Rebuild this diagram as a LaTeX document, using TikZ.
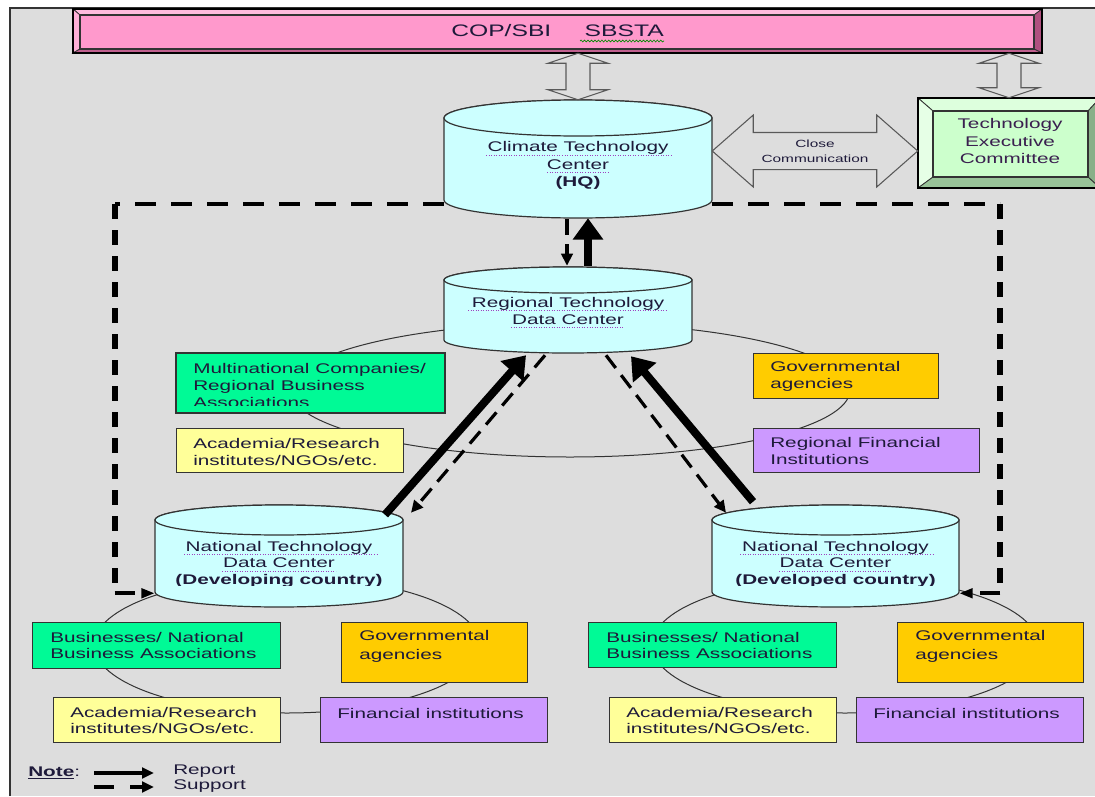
\documentclass[tikz,border=0pt]{standalone}
\usepackage{fontspec}
\setmainfont{Liberation Sans}[FakeStretch=1.48]
\usetikzlibrary{arrows.meta,calc,decorations.pathmorphing}
\definecolor{panel}{HTML}{DDDDDD}
\definecolor{pinkface}{HTML}{FF99CC}
\definecolor{pinktop}{HTML}{FFBBDD}
\definecolor{pinkleft}{HTML}{FFB0D8}
\definecolor{pinkright}{HTML}{B0507F}
\definecolor{pinkbot}{HTML}{C0608F}
\definecolor{cylfill}{HTML}{CCFFFF}
\definecolor{tecface}{HTML}{CCFFCC}
\definecolor{tectop}{HTML}{DDFFDD}
\definecolor{tecleft}{HTML}{E6FFE6}
\definecolor{tecright}{HTML}{88B088}
\definecolor{tecbot}{HTML}{99C499}
\definecolor{bgreen}{HTML}{00FA96}
\definecolor{borange}{HTML}{FFCC00}
\definecolor{byellow}{HTML}{FFFF99}
\definecolor{bpurple}{HTML}{CC99FF}
\definecolor{txtc}{HTML}{1E1A3A}
\definecolor{tectxt}{HTML}{3A1F4F}
\definecolor{linec}{HTML}{333333}
\definecolor{spellc}{HTML}{A040C0}
\pgfdeclarelayer{bg}
\pgfsetlayers{bg,main}
\tikzset{
  txt/.style={inner sep=0, text=txtc, font=\fontsize{10.5}{12.75}\selectfont},
  cyltxt/.style={txt, align=center, font=\fontsize{10.5}{13}\selectfont},
  boxtxt/.style={txt, align=left, anchor=west},
  box/.style={draw=linec, line width=0.9pt, inner sep=0, anchor=north west},
  cyl/.style={fill=cylfill, draw=linec, line width=0.9pt},
  ring/.style={draw=linec, line width=0.75pt},
  bevel/.style={draw=linec, line width=0.6pt},
  hollow/.style={fill=panel, draw=black!65, line width=0.8pt},
  spell/.style={draw=spellc, line width=0.6pt, dash pattern=on 0.6pt off 1.3pt},
  supportH/.style={line width=3.2pt, dash pattern=on 15.5pt off 11.5pt},
  supportV/.style={line width=4.6pt, dash pattern=on 10.9pt off 8.6pt},
  suptip/.style={-{Triangle[length=10pt,width=7pt]}},
  supthin/.style={line width=2.4pt, dash pattern=on 12pt off 6.75pt, -{Triangle[length=9pt,width=8.5pt]}},
  report/.style={line width=6pt, -{Triangle[length=16pt,width=22pt]}},
  legsolid/.style={line width=3pt, -{Triangle[length=9pt,width=8pt]}},
  legdash/.style={line width=3pt, dash pattern=on 15pt off 12pt, -{Triangle[length=9pt,width=8pt]}}
}
% cylinder: name, cx, cy, width, height, ry (px)
\newcommand\cylnode[6]{%
  \pgfmathsetmacro\cxl{#2-#4/2}\pgfmathsetmacro\cxr{#2+#4/2}%
  \pgfmathsetmacro\cyt{#3-#5/2+#6}\pgfmathsetmacro\cyb{#3+#5/2-#6}%
  \pgfmathsetmacro\crx{#4/2}%
  \filldraw[cyl] (\cxl,\cyt) -- (\cxl,\cyb) arc[start angle=180,end angle=0,x radius=\crx,y radius=#6] -- (\cxr,\cyt) arc[start angle=0,end angle=-180,x radius=\crx,y radius=#6] -- cycle;
  \draw[cyl] (#2,\cyt) ellipse [x radius=\crx, y radius=#6];
  \node[inner sep=0, minimum width=#4*0.75pt, minimum height=#5*0.75pt] (#1) at (#2,#3) {};
}
% box: name, x1, y1, x2, y2, fill
\newcommand\boxnode[6]{%
  \node[box, fill=#6, minimum width={(#4-#2)*0.75pt}, minimum height={(#5-#3)*0.75pt}] (#1) at (#2,#3) {};
}
% vertical hollow double arrow between two points
\newcommand\dblarrowV[2]{%
  \draw[hollow] let \p1=#1, \p2=#2 in
   (\x1,\y1) -- (\x1+22.5pt,\y1-7.5pt) -- (\x1+9pt,\y1-7.5pt) -- (\x1+9pt,\y2+7.5pt) -- (\x1+22.5pt,\y2+7.5pt) -- (\x1,\y2)
   -- (\x1-22.5pt,\y2+7.5pt) -- (\x1-9pt,\y2+7.5pt) -- (\x1-9pt,\y1-7.5pt) -- (\x1-22.5pt,\y1-7.5pt) -- cycle;
}
% horizontal hollow double arrow
\newcommand\dblarrowH[2]{%
  \draw[hollow] let \p1=#1, \p2=#2 in
   (\x1,\y1) -- (\x1+30.75pt,\y1+27pt) -- (\x1+30.75pt,\y1+13.9pt) -- (\x2-30.75pt,\y1+13.9pt) -- (\x2-30.75pt,\y1+27pt) -- (\x2,\y1)
   -- (\x2-30.75pt,\y1-27pt) -- (\x2-30.75pt,\y1-13.9pt) -- (\x1+30.75pt,\y1-13.9pt) -- (\x1+30.75pt,\y1-27pt) -- cycle;
}
\begin{document}
\begin{tikzpicture}[x=0.75pt,y=-0.75pt]
\useasboundingbox (0,0) rectangle (1095,796);
\begin{pgfonlayer}{bg}
  \fill[white] (0,0) rectangle (1095,796);
  \fill[panel] (10,8) rectangle (1095,796);
  \draw[linec, line width=0.9pt] (10,796) -- (10,8) -- (1095,8);
  % rings
  \draw[ring] (570,390) ellipse [x radius=280, y radius=67];
  \draw[ring] (287,645) ellipse [x radius=193, y radius=68];
  \draw[ring] (845,645) ellipse [x radius=193, y radius=68];
\end{pgfonlayer}

% ---- COP bar
\node[inner sep=0, minimum width=726.75pt, minimum height=33pt] (copbar) at (557.5,31) {};
\fill[pinkface] (80,15) rectangle (1034,49);
\filldraw[bevel, fill=pinktop] (73,9) -- (1042,9) -- (1034,15) -- (80,15) -- cycle;
\filldraw[bevel, fill=pinkleft] (73,9) -- (80,15) -- (80,49) -- (73,53) -- cycle;
\filldraw[bevel, fill=pinkright] (1042,9) -- (1042,53) -- (1034,49) -- (1034,15) -- cycle;
\filldraw[bevel, fill=pinkbot] (73,53) -- (1042,53) -- (1034,49) -- (80,49) -- cycle;
\draw[black, line width=1pt] (73,9) rectangle (1042,53);
\draw[linec, line width=0.9pt] (80,15) rectangle (1034,49);
\node[txt, font=\fontsize{12.5}{15}\selectfont] (cop) at (557.5,31) {COP/SBI\hspace{25pt}SBSTA};
\draw[green!55!black, line width=0.5pt, decorate, decoration={snake, amplitude=0.7pt, segment length=2.6pt}] (580,41) -- (664,41);

% ---- TEC box
\node[inner sep=0, minimum width=136.5pt, minimum height=67.5pt] (tec) at (1009,143) {};
\fill[tecface] (933,111) rectangle (1088,177);
\filldraw[bevel, fill=tectop] (918,98) -- (1100,98) -- (1088,111) -- (933,111) -- cycle;
\filldraw[bevel, fill=tecleft] (918,98) -- (933,111) -- (933,177) -- (918,188) -- cycle;
\filldraw[bevel, fill=tecright] (1100,98) -- (1100,188) -- (1088,177) -- (1088,111) -- cycle;
\filldraw[bevel, fill=tecbot] (918,188) -- (1100,188) -- (1088,177) -- (933,177) -- cycle;
\draw[black, line width=1pt] (918,98) rectangle (1100,188);
\draw[linec, line width=0.9pt] (933,111) rectangle (1088,177);
\node[cyltxt, text=tectxt] (tect) at (1010,141) {Technology\\Executive\\Committee};

% ---- cylinders
\cylnode{hq}{578}{159}{268}{118}{18}
\cylnode{rtdc}{568}{310}{248}{86}{13}
\cylnode{ntdcL}{279}{556}{248}{102}{15}
\cylnode{ntdcR}{835.5}{556}{247}{102}{15}
\node[cyltxt] (hqt) at (578,165.5) {Climate Technology\\Center\\\textbf{(HQ)}};
\node[cyltxt] (rtdct) at (568,311) {Regional Technology\\Data Center};
\begin{scope}
  \clip (150,500) rectangle (965,585);
  \node[cyltxt, font=\fontsize{10.5}{12.4}\selectfont] (ntdcLt) at (279,564) {National Technology\\Data Center\\\textbf{(Developing country)}};
  \node[cyltxt, font=\fontsize{10.5}{12.4}\selectfont] (ntdcRt) at (835.5,564) {National Technology\\Data Center\\\textbf{(Developed country)}};
\end{scope}
% spell-check underlines
\draw[spell] (486,155) -- (672,155);
\draw[spell] (547,172) -- (609,172);
\draw[spell] (468,310) -- (668,310);
\draw[spell] (511,327) -- (623,327);
\draw[spell] (184,554) -- (377,554);
\draw[spell] (222,571) -- (336,571);
\draw[spell] (740,554) -- (933,554);
\draw[spell] (779,571) -- (891,571);

% ---- hollow arrows
\dblarrowV{(copbar.south -| hq.north)}{(hq.north)}
\dblarrowV{(copbar.south -| tec.north)}{(tec.north)}
\dblarrowH{($(hq.east)+(0,-8)$)}{(tec.west)}
\node[txt, align=center, font=\fontsize{7.8}{11.25}\selectfont] (cc) at (815,151) {Close\\Communication};

% ---- regional boxes
\boxnode{b1}{176}{353}{444}{412}{bgreen}
\begin{scope}
  \clip (176,353) rectangle (444,405);
  \node[boxtxt] (t1) at (193,385) {Multinational Companies/\\Regional Business\\Associations};
\end{scope}
\draw[linec, line width=0.9pt] (b1.north west) rectangle (b1.south east);
\boxnode{b2}{176}{428}{403}{472}{byellow}
\node[boxtxt] (t2) at (193,451.5) {Academia/Research\\institutes/NGOs/etc.};
\boxnode{b3}{753}{353}{938}{398}{borange}
\node[boxtxt] (t3) at (770,376.5) {Governmental\\agencies};
\boxnode{b4}{753}{428}{979}{472}{bpurple}
\node[boxtxt] (t4) at (770,451) {Regional Financial\\Institutions};

% ---- left national boxes
\boxnode{b5}{32}{622}{280}{668}{bgreen}
\node[boxtxt, font=\fontsize{10.5}{12}\selectfont] (t5) at (50,645) {Businesses/ National\\Business Associations};
\boxnode{b6}{341}{622}{527}{682}{borange}
\node[boxtxt, font=\fontsize{10.5}{14}\selectfont] (t6) at (359,646.5) {Governmental\\agencies};
\boxnode{b7}{53}{697}{280}{742}{byellow}
\node[boxtxt, font=\fontsize{10.5}{12}\selectfont] (t7) at (70,720) {Academia/Research\\institutes/NGOs/etc.};
\boxnode{b8}{320}{697}{547}{742}{bpurple}
\node[boxtxt] (t8) at (337,713) {Financial institutions};

% ---- right national boxes
\boxnode{b9}{588}{622}{836}{667}{bgreen}
\node[boxtxt, font=\fontsize{10.5}{12}\selectfont] (t9) at (606,645) {Businesses/ National\\Business Associations};
\boxnode{b10}{897}{622}{1083}{682}{borange}
\node[boxtxt, font=\fontsize{10.5}{14}\selectfont] (t10) at (915,646.5) {Governmental\\agencies};
\boxnode{b11}{609}{697}{836}{742}{byellow}
\node[boxtxt, font=\fontsize{10.5}{12}\selectfont] (t11) at (626,720) {Academia/Research\\institutes/NGOs/etc.};
\boxnode{b12}{856}{697}{1083}{742}{bpurple}
\node[boxtxt] (t12) at (873,713) {Financial institutions};

% ---- support lines (behind)
\coordinate (cTL) at ($(ntdcL.south west |- hq.south)+(-40,-14)$);
\coordinate (cBL) at ($(ntdcL.south west)+(-40,-14)$);
\coordinate (cTR) at ($(ntdcR.south east |- hq.south)+(41,-14)$);
\coordinate (cBR) at ($(ntdcR.south east)+(41,-14)$);
\begin{pgfonlayer}{bg}
  \draw[supportH] ($(hq.south west)+(0,-14)$) -- (cTL);
  \draw[supportV] (cTL) -- (cBL);
  \draw[supportH, suptip] (cBL) -- ($(ntdcL.south west)+(0,-14)$);
  \draw[supportH] ($(hq.south east)+(0,-14)$) -- (cTR);
  \draw[supportV] (cTR) -- (cBR);
  \draw[supportH, suptip] (cBR) -- ($(ntdcR.south east)+(0,-14)$);
\end{pgfonlayer}

% ---- report / support arrows
\draw[supthin] ($(hq.south)+(-11,1)$) -- ($(rtdc.north)+(-1,-1)$);
\draw[report] ($(rtdc.north)+(20,-1)$) -- ($(hq.south)+(10,0)$);
\draw[report] ($(ntdcL.north)+(106,10)$) -- ($(rtdc.south)+(-42,2)$);
\draw[supthin] ($(rtdc.south)+(-23,2)$) -- ($(ntdcL.north)+(132,8)$);
\draw[supthin] ($(rtdc.south)+(38,2)$) -- ($(ntdcR.north)+(-109.5,8)$);
\draw[report] ($(ntdcR.north)+(-82.5,-3)$) -- ($(rtdc.south)+(63,3)$);

% ---- legend
\node[txt, anchor=west] (note) at (28,773) {\underline{\textbf{Note}}:};
\node[txt, anchor=west] (rep) at (173,771) {Report};
\node[txt, anchor=west] (sup) at (173,786) {Support};
\draw[legsolid] ($(note.east)+(14,0)$) -- ($(rep.west)+(-19,2)$);
\draw[legdash] ($(note.east)+(14,14)$) -- ($(sup.west)+(-19,1)$);
\end{tikzpicture}
\end{document}
